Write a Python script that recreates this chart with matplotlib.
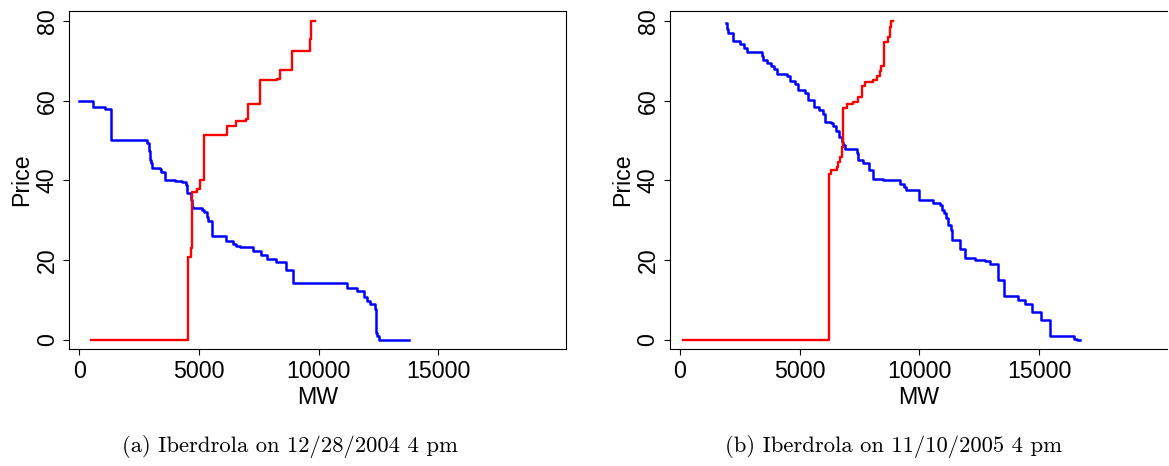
import matplotlib
matplotlib.use('Agg')
import matplotlib.pyplot as plt

# panel (a): Iberdrola 12/28/2004 4 pm -- step curves, value holds until the next MW point
demand_a_mw = [0, 560, 1070, 1310, 2810, 2925, 2960, 2995, 3050, 3370, 3400, 3593, 4000, 4300,
               4470, 4510, 4680, 4720, 4762, 5113, 5225, 5320, 5390, 5556, 6144, 6420, 6535, 6700,
               7256, 7605, 7840, 8230, 8620, 8930, 11180, 11600, 11880, 12020, 12160, 12350, 12390,
               12440, 12500, 13784]
demand_a_price = [60.0, 58.4, 57.9, 50.1, 49.5, 47.5, 45.1, 44.3, 43.1, 42.8, 42.1, 40.0, 39.8, 39.5,
                  38.8, 36.9, 35.0, 33.4, 33.2, 32.6, 32.0, 30.9, 29.9, 26.1, 24.9, 24.2, 23.6, 23.2,
                  22.3, 21.3, 20.3, 19.5, 17.5, 14.4, 13.1, 12.3, 10.9, 9.9, 9.0, 7.9, 1.8,
                  1.0, 0.0, 0.0]
supply_a_mw = [476, 4553, 4653, 4720, 4904, 5030, 5210, 5900, 6155, 6530, 6950, 7060, 7530, 7550,
               8245, 8385, 8870, 9637, 9670, 9845]
supply_a_price = [0.0, 20.9, 23.1, 37.2, 37.9, 40.1, 51.3, 51.5, 53.7, 54.9, 55.3, 59.1, 59.4, 65.1,
                  65.4, 67.8, 72.5, 75.5, 80.0, 80.0]

# panel (b): Iberdrola 11/10/2005 4 pm
demand_b_mw = [1920, 1950, 2017, 2225, 2504, 2671, 2783, 3409, 3478, 3645, 3800, 3937, 4035, 4452,
               4590, 4800, 4937, 5217, 5355, 5593, 5815, 5982, 6052, 6290, 6373, 6511, 6636, 6748,
               6816, 6900, 7166, 7375, 7443, 7652, 7902, 8069, 8500, 9182, 9350, 9460, 9970, 10575,
               10852, 10930, 11019, 11102, 11213, 11310, 11360, 11686, 11922, 12312, 12730, 12939,
               13286, 13536, 14120, 14427, 14719, 15095, 15442, 16456, 16600, 16694]
demand_b_price = [79.6, 78.0, 76.9, 75.1, 74.3, 73.2, 72.3, 71.2, 70.2, 69.5, 68.7, 67.9, 66.7, 66.2,
                  65.0, 64.2, 62.8, 61.9, 60.2, 58.4, 57.8, 56.7, 54.7, 54.3, 53.7, 52.5, 51.0, 49.7,
                  48.9, 48.0, 47.8, 46.8, 45.1, 44.3, 42.6, 40.5, 40.1, 39.1, 38.3, 37.6, 35.1, 34.3,
                  33.9, 32.6, 31.8, 30.5, 28.8, 27.6, 25.1, 22.7, 20.5, 20.1, 19.7, 19.1,
                  15.0, 11.0, 10.0, 9.0, 7.0, 5.0, 1.0, 0.2, 0.0, 0.0]
supply_b_mw = [113, 6232, 6290, 6540, 6610, 6678, 6748, 6790, 6957, 7234, 7420, 7587, 7725, 8069,
               8210, 8347, 8389, 8514, 8693, 8764, 8834, 8903]
supply_b_price = [0.0, 41.6, 42.6, 43.5, 44.7, 46.0, 48.5, 58.1, 59.1, 59.6, 61.0, 63.7, 64.8, 65.2,
                  66.2, 67.4, 68.7, 74.8, 76.1, 78.6, 80.0, 80.0]

captions = ['(a) Iberdrola on 12/28/2004 4 pm', '(b) Iberdrola on 11/10/2005 4 pm']
x_ticks = [0, 5000, 10000, 15000]
y_ticks = [0, 20, 40, 60, 80]

plt.rcParams['font.family'] = ['Liberation Sans', 'DejaVu Sans']

fig = plt.figure(figsize=(11.69, 4.66), dpi=100)
ax_a = fig.add_axes([0.0593, 0.2504, 0.4249, 0.726])
ax_b = fig.add_axes([0.5731, 0.2504, 0.4249, 0.726])

panels = [
    (ax_a, demand_a_mw, demand_a_price, supply_a_mw, supply_a_price),
    (ax_b, demand_b_mw, demand_b_price, supply_b_mw, supply_b_price),
]

for ax, dq, dp, sq, sp in panels:
    ax.step(dq, dp, where='post', color='blue', lw=1.8)
    ax.step(sq, sp, where='post', color='red', lw=1.7)
    ax.set_xlim(-420, 20330)
    ax.set_ylim(-2.33, 82.5)
    ax.set_xticks(x_ticks)
    ax.set_yticks(y_ticks)
    ax.tick_params(axis='both', labelsize=16.7, length=4.5, width=0.8, pad=3)
    ax.tick_params(axis='y', labelrotation=90)
    plt.setp(ax.get_yticklabels(), va='center')
    ax.set_xlabel('MW', fontsize=16.7, labelpad=2)
    ax.set_ylabel('Price', fontsize=16.7, labelpad=2)
    for s in ax.spines.values():
        s.set_linewidth(0.8)

# right panel is cut off at the image edge in the original
ax_b.spines['right'].set_visible(False)

fig.text(0.2477, 0.041, captions[0], ha='center', va='center', family='cmr10', fontsize=16.3)
fig.text(0.764, 0.041, captions[1], ha='center', va='center', family='cmr10', fontsize=16.3)

fig.savefig('out.png', dpi=100)
